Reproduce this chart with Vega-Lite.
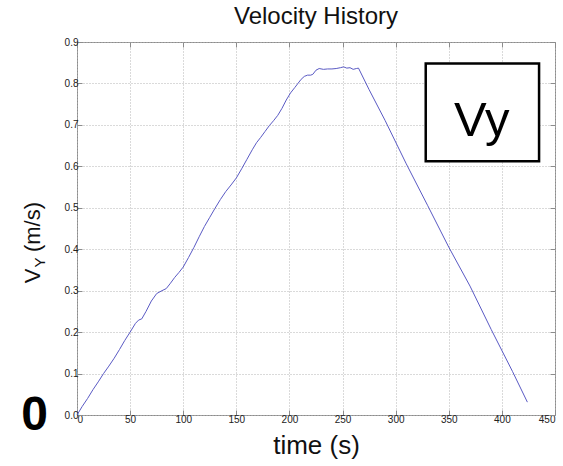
{
  "$schema": "https://vega.github.io/schema/vega-lite/v6.json",
  "width": 478,
  "height": 373,
  "autosize": {"type": "none"},
  "padding": {"left": 77, "top": 42, "right": 8, "bottom": 51},
  "background": "white",
  "config": {
    "font": "Liberation Sans",
    "view": {"stroke": "#8c8c8c", "strokeWidth": 1},
    "axis": {
      "domain": false,
      "grid": true,
      "gridColor": "#b4b4b4",
      "gridDash": [1, 2],
      "gridWidth": 1,
      "tickColor": "#8c8c8c",
      "tickSize": -5,
      "labelFont": "Liberation Sans",
      "labelFontSize": 10,
      "labelColor": "#222222",
      "titleFont": "Liberation Sans"
    }
  },
  "title": {
    "text": "Velocity History",
    "fontSize": 24,
    "fontWeight": "normal",
    "color": "#111111",
    "offset": 8,
    "font": "Liberation Sans"
  },
  "datasets": {
    "velocity": [
      {"t": 0, "v": 0}, {"t": 5, "v": 0.021}, {"t": 10, "v": 0.04}, {"t": 15, "v": 0.061},
      {"t": 20, "v": 0.08}, {"t": 25, "v": 0.1}, {"t": 30, "v": 0.118}, {"t": 35, "v": 0.137},
      {"t": 40, "v": 0.158}, {"t": 45, "v": 0.18}, {"t": 50, "v": 0.2}, {"t": 55, "v": 0.221},
      {"t": 58, "v": 0.229}, {"t": 61, "v": 0.232}, {"t": 65, "v": 0.25}, {"t": 70, "v": 0.275},
      {"t": 75, "v": 0.293}, {"t": 80, "v": 0.3}, {"t": 84, "v": 0.305}, {"t": 88, "v": 0.318},
      {"t": 92, "v": 0.332}, {"t": 96, "v": 0.344}, {"t": 100, "v": 0.357}, {"t": 105, "v": 0.38},
      {"t": 110, "v": 0.404}, {"t": 115, "v": 0.43}, {"t": 120, "v": 0.455}, {"t": 125, "v": 0.477},
      {"t": 130, "v": 0.499}, {"t": 135, "v": 0.52}, {"t": 140, "v": 0.539}, {"t": 145, "v": 0.555},
      {"t": 150, "v": 0.572}, {"t": 155, "v": 0.594}, {"t": 160, "v": 0.617}, {"t": 165, "v": 0.64},
      {"t": 169, "v": 0.657}, {"t": 173, "v": 0.67}, {"t": 177, "v": 0.684}, {"t": 181, "v": 0.698},
      {"t": 185, "v": 0.71}, {"t": 189, "v": 0.723}, {"t": 193, "v": 0.74}, {"t": 197, "v": 0.76},
      {"t": 201, "v": 0.777}, {"t": 205, "v": 0.79}, {"t": 208, "v": 0.8}, {"t": 211, "v": 0.81},
      {"t": 214, "v": 0.817}, {"t": 217, "v": 0.82}, {"t": 220, "v": 0.82}, {"t": 222, "v": 0.822},
      {"t": 225, "v": 0.832}, {"t": 228, "v": 0.836}, {"t": 232, "v": 0.834}, {"t": 236, "v": 0.835},
      {"t": 240, "v": 0.835}, {"t": 244, "v": 0.836}, {"t": 248, "v": 0.838}, {"t": 251, "v": 0.84},
      {"t": 254, "v": 0.837}, {"t": 257, "v": 0.838}, {"t": 260, "v": 0.834}, {"t": 263, "v": 0.836},
      {"t": 265, "v": 0.837}, {"t": 275, "v": 0.785}, {"t": 290, "v": 0.711}, {"t": 310, "v": 0.606},
      {"t": 330, "v": 0.506}, {"t": 350, "v": 0.405}, {"t": 370, "v": 0.311}, {"t": 390, "v": 0.206},
      {"t": 410, "v": 0.105}, {"t": 424, "v": 0.031}
    ],
    "legend_box": [{"x1": 328.3, "x2": 435, "y1": 0.612, "y2": 0.848}],
    "legend_text": [{"x": 381, "y": 0.672, "text": "Vy"}],
    "origin_mark": [{"x": -40, "y": -0.036, "text": "0"}],
    "ytitle_main": [
      {"x": -35, "y": 0.318, "text": "V"},
      {"x": -35, "y": 0.393, "text": "(m/s)"}
    ],
    "ytitle_sub": [{"x": -30.4, "y": 0.356, "text": "Y"}]
  },
  "resolve": {"axis": {"x": "independent", "y": "independent"}},
  "layer": [
    {
      "data": {"name": "velocity"},
      "mark": {"type": "line", "color": "#5a5ac4", "strokeWidth": 1},
      "encoding": {
        "x": {
          "field": "t", "type": "quantitative",
          "scale": {"domain": [0, 450], "nice": false, "zero": false},
          "axis": {"orient": "bottom", "values": [0, 50, 100, 150, 200, 250, 300, 350, 400, 450],
                   "title": "time (s)", "titleFontSize": 26, "titleFontWeight": "normal",
                   "titleColor": "#111111", "labelPadding": 4, "titlePadding": 8}
        },
        "y": {
          "field": "v", "type": "quantitative",
          "scale": {"domain": [0, 0.9], "nice": false, "zero": false},
          "axis": {"orient": "left", "values": [0, 0.1, 0.2, 0.3, 0.4, 0.5, 0.6, 0.7, 0.8, 0.9],
                   "title": null, "labelPadding": 4}
        }
      }
    },
    {
      "data": {"name": "velocity"},
      "mark": {"type": "line", "opacity": 0},
      "encoding": {
        "x": {
          "field": "t", "type": "quantitative",
          "scale": {"domain": [0, 450], "nice": false, "zero": false},
          "axis": {"orient": "top", "values": [0, 50, 100, 150, 200, 250, 300, 350, 400, 450],
                   "labels": false, "grid": false, "title": null}
        },
        "y": {
          "field": "v", "type": "quantitative",
          "scale": {"domain": [0, 0.9], "nice": false, "zero": false},
          "axis": {"orient": "right", "values": [0, 0.1, 0.2, 0.3, 0.4, 0.5, 0.6, 0.7, 0.8, 0.9],
                   "labels": false, "grid": false, "title": null}
        }
      }
    },
    {
      "data": {"name": "legend_box"},
      "mark": {"type": "rect", "fill": "white", "stroke": "black", "strokeWidth": 2.5},
      "encoding": {
        "x": {"field": "x1", "type": "quantitative", "scale": {"domain": [0, 450], "nice": false, "zero": false}, "axis": null},
        "x2": {"field": "x2"},
        "y": {"field": "y1", "type": "quantitative", "scale": {"domain": [0, 0.9], "nice": false, "zero": false}, "axis": null},
        "y2": {"field": "y2"}
      }
    },
    {
      "data": {"name": "legend_text"},
      "mark": {"type": "text", "fontSize": 49, "color": "black", "align": "center", "baseline": "alphabetic", "font": "Liberation Sans"},
      "encoding": {
        "x": {"field": "x", "type": "quantitative", "scale": {"domain": [0, 450], "nice": false, "zero": false}, "axis": null},
        "y": {"field": "y", "type": "quantitative", "scale": {"domain": [0, 0.9], "nice": false, "zero": false}, "axis": null},
        "text": {"field": "text"}
      }
    },
    {
      "data": {"name": "origin_mark"},
      "mark": {"type": "text", "fontSize": 48, "fontWeight": "bold", "color": "black", "align": "center", "baseline": "alphabetic", "font": "Liberation Sans"},
      "encoding": {
        "x": {"field": "x", "type": "quantitative", "scale": {"domain": [0, 450], "nice": false, "zero": false}, "axis": null},
        "y": {"field": "y", "type": "quantitative", "scale": {"domain": [0, 0.9], "nice": false, "zero": false}, "axis": null},
        "text": {"field": "text"}
      }
    },
    {
      "data": {"name": "ytitle_main"},
      "mark": {"type": "text", "fontSize": 22, "angle": 270, "color": "#111111", "align": "left", "baseline": "alphabetic", "font": "Liberation Sans"},
      "encoding": {
        "x": {"field": "x", "type": "quantitative", "scale": {"domain": [0, 450], "nice": false, "zero": false}, "axis": null},
        "y": {"field": "y", "type": "quantitative", "scale": {"domain": [0, 0.9], "nice": false, "zero": false}, "axis": null},
        "text": {"field": "text"}
      }
    },
    {
      "data": {"name": "ytitle_sub"},
      "mark": {"type": "text", "fontSize": 15, "angle": 270, "color": "#111111", "align": "left", "baseline": "alphabetic", "font": "Liberation Sans"},
      "encoding": {
        "x": {"field": "x", "type": "quantitative", "scale": {"domain": [0, 450], "nice": false, "zero": false}, "axis": null},
        "y": {"field": "y", "type": "quantitative", "scale": {"domain": [0, 0.9], "nice": false, "zero": false}, "axis": null},
        "text": {"field": "text"}
      }
    }
  ]
}
